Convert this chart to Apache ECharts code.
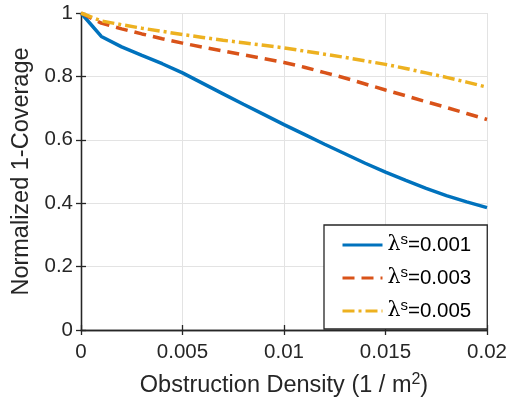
<!DOCTYPE html>
<html>
<head>
<meta charset="utf-8">
<script src="https://cdn.jsdelivr.net/npm/echarts@6/dist/echarts.min.js"></script>
<style>html,body{margin:0;padding:0;background:#fff}#c{width:525px;height:400px}</style>
</head>
<body>
<div id="c"></div>
<script>
var density = [0, 0.001, 0.002, 0.003, 0.004, 0.005, 0.006, 0.007, 0.008, 0.009, 0.010, 0.011, 0.012, 0.013, 0.014, 0.015, 0.016, 0.017, 0.018, 0.019, 0.020];
var cov001 = [1.0, 0.926, 0.893, 0.866, 0.840, 0.811, 0.778, 0.745, 0.712, 0.680, 0.648, 0.617, 0.586, 0.556, 0.526, 0.498, 0.472, 0.447, 0.424, 0.404, 0.386];
var cov003 = [1.0, 0.968, 0.950, 0.934, 0.919, 0.905, 0.892, 0.880, 0.868, 0.856, 0.844, 0.829, 0.812, 0.795, 0.776, 0.757, 0.739, 0.720, 0.702, 0.683, 0.664];
var cov005 = [1.0, 0.975, 0.963, 0.952, 0.942, 0.932, 0.923, 0.914, 0.906, 0.898, 0.890, 0.880, 0.870, 0.860, 0.849, 0.838, 0.825, 0.811, 0.797, 0.782, 0.766];
var seriesNames = ['0.001', '0.003', '0.005'];
var xTicks = [0, 0.005, 0.01, 0.015, 0.02];
var yTicks = [0, 0.2, 0.4, 0.6, 0.8, 1];

function pairs(ys) { return density.map(function (x, i) { return [x, ys[i]]; }); }

var FONT = 'Liberation Sans';
var TXT = '#262626';
var TICK_FS = 20.5;
var TITLE_FS = 23.5;
var chart = echarts.init(document.getElementById('c'), null, {renderer: 'canvas'});
var axisLine = {show: true, lineStyle: {color: TXT, width: 1.3}};
var axisTick = {show: true, inside: true, length: 5, lineStyle: {color: TXT, width: 1.3}};
chart.setOption({
  animation: false,
  textStyle: {fontFamily: FONT},
  grid: {left: 81, top: 13, right: 38, bottom: 70, show: false, containLabel: false, outerBoundsMode: 'none'},
  legend: {
    left: 324, top: 225,
    orient: 'vertical',
    backgroundColor: '#fff',
    borderColor: TXT, borderWidth: 1.3, borderRadius: 0,
    padding: [7, 16, 5, 17],
    itemGap: 7,
    itemWidth: 40, itemHeight: 26,
    itemStyle: {color: 'rgba(0,0,0,0)', borderWidth: 0, opacity: 0},
    lineStyle: {width: 3},
    data: seriesNames,
    formatter: function (n) { return '{l|λ}{s|s}{n|=' + n + '}'; },
    textStyle: {
      color: '#000', fontSize: 20.5, fontFamily: FONT,
      rich: {
        l: {fontSize: 20.5, fontFamily: 'DejaVu Serif', color: '#000', lineHeight: 26},
        s: {fontSize: 15, fontFamily: FONT, color: '#000', padding: [0, 0, 11, 0], lineHeight: 26},
        n: {fontSize: 20.5, fontFamily: FONT, color: '#000', lineHeight: 26}
      }
    }
  },
  xAxis: [{
    type: 'value', min: 0, max: 0.02, interval: 0.005, position: 'bottom',
    name: '{a|Obstruction Density (1 / m}{b|2}{a|)}',
    nameLocation: 'middle', nameGap: 42,
    nameTextStyle: {
      color: TXT, fontSize: TITLE_FS,
      rich: {a: {fontSize: TITLE_FS, color: TXT, fontFamily: FONT}, b: {fontSize: 16, color: TXT, fontFamily: FONT, padding: [0, 0, 12, 0]}}
    },
    axisLabel: {color: TXT, fontSize: TICK_FS, margin: 12},
    axisLine: axisLine, axisTick: axisTick,
    splitLine: {show: true, lineStyle: {color: '#e3e3e3', width: 1}}
  }, {
    type: 'value', min: 0, max: 0.02, interval: 0.005, position: 'top',
    axisLabel: {show: false}, axisLine: axisLine, axisTick: axisTick, splitLine: {show: false}
  }],
  yAxis: [{
    type: 'value', min: 0, max: 1, interval: 0.2, position: 'left',
    name: 'Normalized 1-Coverage', nameLocation: 'middle', nameGap: 44,
    nameTextStyle: {color: TXT, fontSize: TITLE_FS},
    axisLabel: {color: TXT, fontSize: TICK_FS, margin: 8},
    axisLine: axisLine, axisTick: axisTick,
    splitLine: {show: true, lineStyle: {color: '#e3e3e3', width: 1}}
  }, {
    type: 'value', min: 0, max: 1, interval: 0.2, position: 'right',
    axisLabel: {show: false}, axisLine: axisLine, axisTick: axisTick, splitLine: {show: false}
  }],
  series: [
    {name: seriesNames[0], type: 'line', data: pairs(cov001), symbol: 'none', showSymbol: false, lineStyle: {color: '#0072BD', width: 3.5}, itemStyle: {color: '#0072BD'}},
    {name: seriesNames[1], type: 'line', data: pairs(cov003), symbol: 'none', showSymbol: false, lineStyle: {color: '#D95319', width: 3.5, type: [12, 7]}, itemStyle: {color: '#D95319'}},
    {name: seriesNames[2], type: 'line', data: pairs(cov005), symbol: 'none', showSymbol: false, lineStyle: {color: '#EDB120', width: 3.5, type: [12, 4, 3, 4]}, itemStyle: {color: '#EDB120'}}
  ]
});
</script>
</body>
</html>
